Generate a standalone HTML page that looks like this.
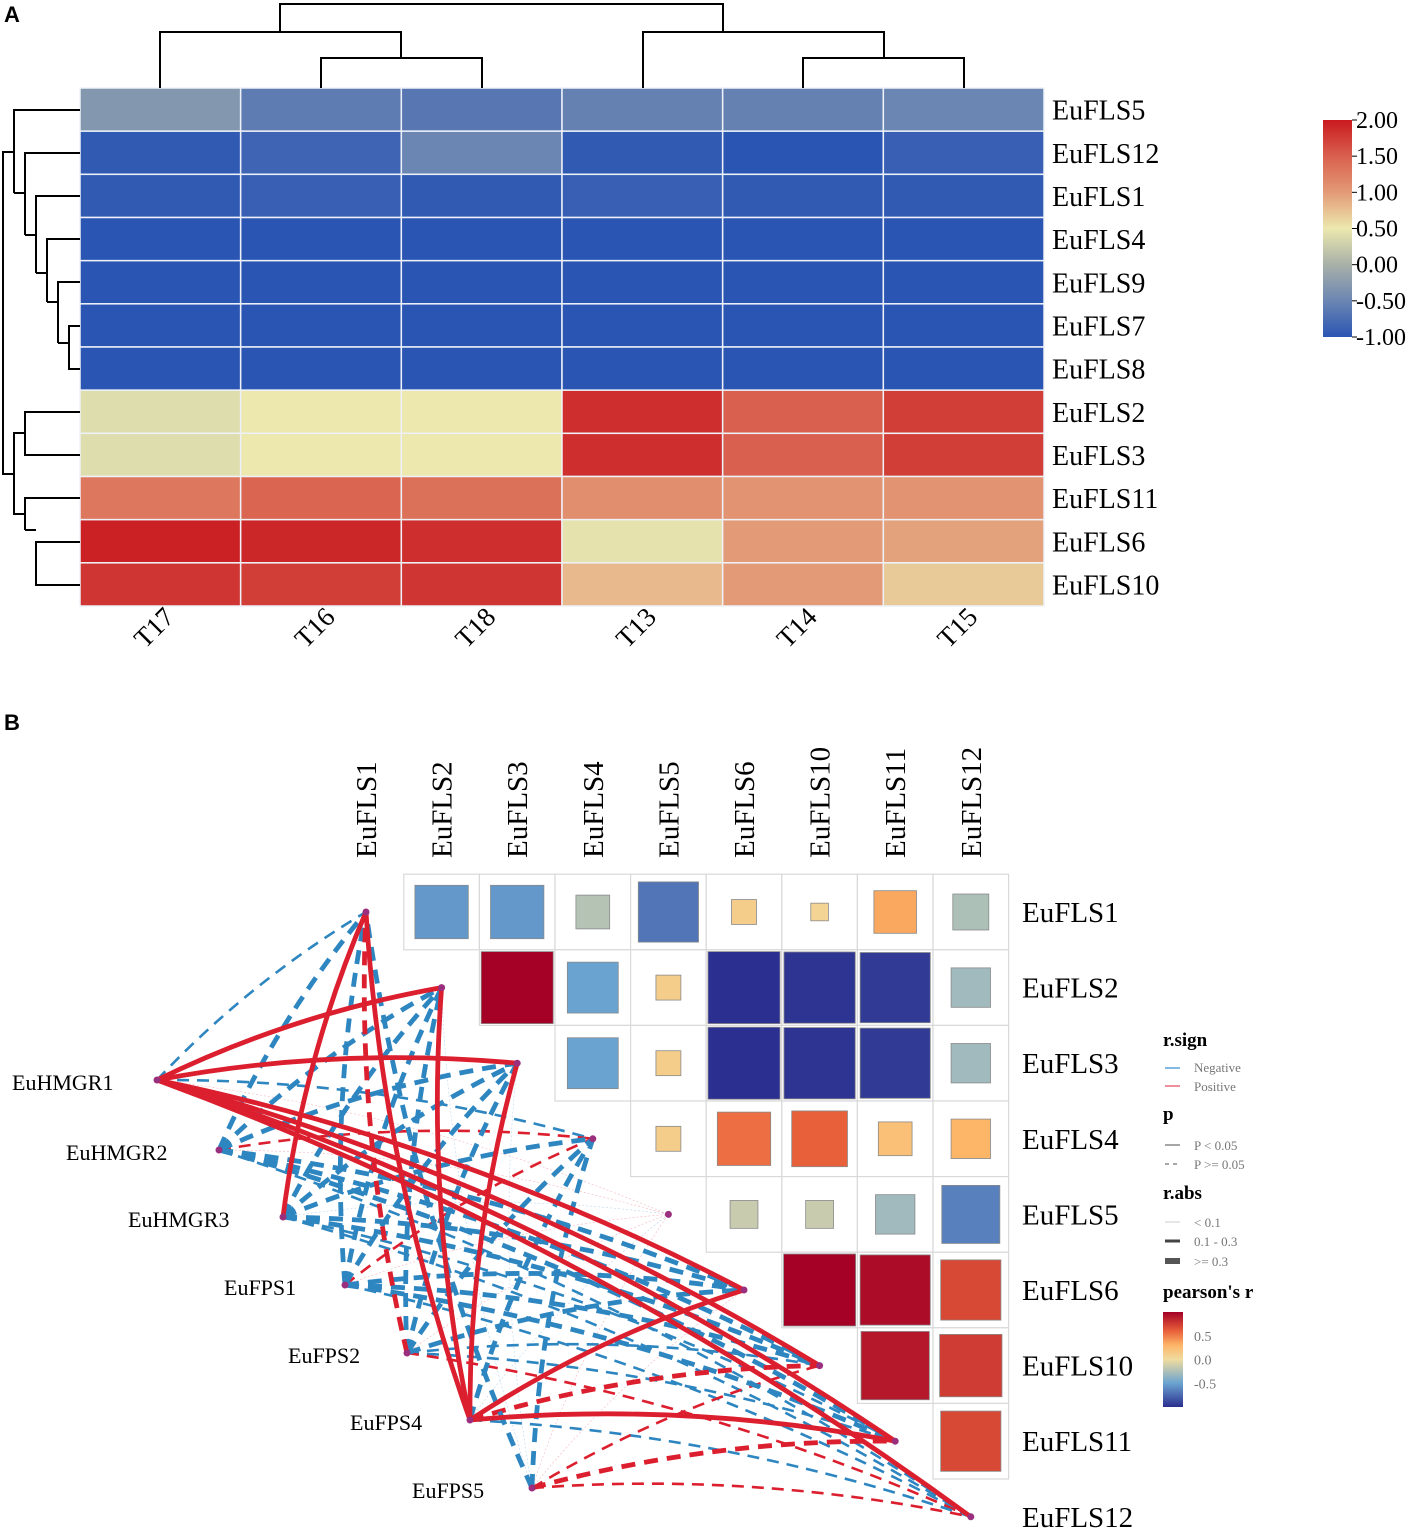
<!DOCTYPE html>
<html><head><meta charset="utf-8">
<style>
html,body{margin:0;padding:0;background:#fff;}
svg{display:block;font-family:"Liberation Serif",serif;}
</style></head>
<body>
<svg id="fig" width="1416" height="1534" viewBox="0 0 1416 1534" xmlns="http://www.w3.org/2000/svg">
<text x="4" y="22" font-family="Liberation Sans, sans-serif" font-weight="bold" font-size="22">A</text>
<text x="4" y="730" font-family="Liberation Sans, sans-serif" font-weight="bold" font-size="22">B</text>
<g id="heat"></g>
<g id="dendro" stroke="#000" stroke-width="2" fill="none">
<path d="M160,88V32H401V58 M321,88V58H482V88 M280,32V4H723V32 M643,88V32H884V58 M803,88V58H964V88"/>
<path d="M80,110H14V193 M14,193H25 M80,153H25V235 M25,235H36 M80,196H36V273 M36,273H47 M80,239H47V302 M47,302H58 M80,282H58V343 M58,343H69 M80,326H69V369H80 M14,152H3V474H14 M80,412H25V455H80 M25,433H14V514H25 M80,498H25V530 M25,530H36 M80,542H36V585H80"/>
</g>
<g id="cbar"></g>
<g id="net"></g>
<g id="corr"></g>
<g id="legend"></g>
</svg>
<script>
// ---------- Panel A data ----------
const heatCols = ["T17","T16","T18","T13","T14","T15"];
const heatRows = ["EuFLS5","EuFLS12","EuFLS1","EuFLS4","EuFLS9","EuFLS7","EuFLS8","EuFLS2","EuFLS3","EuFLS11","EuFLS6","EuFLS10"];
const heatVals = [
 [-0.3,-0.6,-0.65,-0.55,-0.55,-0.5],
 [-0.95,-0.85,-0.5,-0.95,-1.0,-0.9],
 [-0.95,-0.9,-0.95,-0.9,-0.95,-0.95],
 [-1,-1,-1,-1,-1,-1],
 [-1,-1,-1,-1,-1,-1],
 [-1,-1,-1,-1,-1,-1],
 [-1,-1,-1,-1,-1,-1],
 [0.4,0.5,0.5,1.85,1.5,1.75],
 [0.4,0.5,0.5,1.85,1.5,1.75],
 [1.3,1.45,1.35,1.1,1.05,1.05],
 [1.95,1.9,1.85,0.45,1.0,0.95],
 [1.8,1.75,1.8,0.8,1.0,0.7]
];
const cbarTicks = [2,1.5,1,0.5,0,-0.5,-1];

// ---------- Panel B data ----------
const corrNames = ["EuFLS1","EuFLS2","EuFLS3","EuFLS4","EuFLS5","EuFLS6","EuFLS10","EuFLS11","EuFLS12"];
const corrVals = [
 [1,-0.55,-0.55,-0.22,-0.7,0.12,0.06,0.35,-0.25],
 [0,1,1.0,-0.5,0.12,-1.0,-0.98,-0.95,-0.3],
 [0,0,1,-0.5,0.12,-1.0,-0.98,-0.95,-0.3],
 [0,0,0,1,0.12,0.55,0.6,0.22,0.3],
 [0,0,0,0,1,-0.15,-0.15,-0.3,-0.65],
 [0,0,0,0,0,1,1.0,0.95,0.7],
 [0,0,0,0,0,0,1,0.9,0.75],
 [0,0,0,0,0,0,0,1,0.7],
 [0,0,0,0,0,0,0,0,1]
];
const srcNames = ["EuHMGR1","EuHMGR2","EuHMGR3","EuFPS1","EuFPS2","EuFPS4","EuFPS5"];
const edgeR = [
 [-0.2,0.85,0.85,-0.2,0.05,0.9,0.9,0.9,0.6],
 [-0.5,-0.4,-0.5,0.2,0.05,-0.4,-0.3,-0.3,-0.2],
 [0.85,-0.4,-0.4,-0.3,-0.05,-0.3,-0.3,-0.2,-0.2],
 [-0.4,-0.4,-0.4,0.2,0.05,-0.3,-0.3,-0.3,-0.2],
 [0.4,-0.3,-0.3,-0.3,0.05,-0.3,-0.2,-0.2,0.2],
 [0.9,0.9,0.85,-0.3,-0.05,0.9,0.4,0.9,-0.2],
 [-0.5,-0.05,-0.05,-0.3,0.05,0.05,0.2,0.3,0.2]
];
const edgeSig = [
 [0,1,1,0,0,1,1,1,1],
 [0,0,0,0,0,0,0,0,0],
 [1,0,0,0,0,0,0,0,0],
 [0,0,0,0,0,0,0,0,0],
 [0,0,0,0,0,0,0,0,0],
 [1,1,1,0,0,1,0,1,0],
 [0,0,0,0,0,0,0,0,0]
];
const pearsonTicks = [0.5,0,-0.5];

const NS="http://www.w3.org/2000/svg";
function mk(tag,attrs,parent){const e=document.createElementNS(NS,tag);for(const k in attrs)e.setAttribute(k,attrs[k]);parent.appendChild(e);return e;}
function lerp(a,b,t){return a+(b-a)*t;}
function hex(h){return [parseInt(h.slice(1,3),16),parseInt(h.slice(3,5),16),parseInt(h.slice(5,7),16)];}
function ramp(stops,v){
  if(v<=stops[0][0])return stops[0][1];
  for(let i=1;i<stops.length;i++){if(v<=stops[i][0]){const t=(v-stops[i-1][0])/(stops[i][0]-stops[i-1][0]);const a=hex(stops[i-1][1]),b=hex(stops[i][1]);return `rgb(${Math.round(lerp(a[0],b[0],t))},${Math.round(lerp(a[1],b[1],t))},${Math.round(lerp(a[2],b[2],t))})`;}}
  return stops[stops.length-1][1];
}
const heatStops=[[-1,"#2b55b3"],[-0.5,"#6b86b2"],[0,"#a8b0a8"],[0.5,"#ece8ae"],[1,"#e39a76"],[1.5,"#d9604e"],[2,"#c9191f"]];
const corrStops=[[-1,"#2b2f8f"],[-0.5,"#6aa3d0"],[0,"#f0dca0"],[0.3,"#fdb668"],[0.6,"#e8603a"],[1,"#a50026"]];

// ---------- Heatmap ----------
const hx0=80,hx1=1044,hy0=88,hy1=606;
const cw=(hx1-hx0)/heatCols.length, ch=(hy1-hy0)/heatRows.length;
const xH=i=>hx0+i*cw, yH=j=>hy0+j*ch;
const heat=document.getElementById('heat');
heatRows.forEach((rn,j)=>{
  heatCols.forEach((cn,i)=>{
    const r=mk('rect',{x:xH(i),y:yH(j),width:cw,height:ch,fill:ramp(heatStops,heatVals[j][i]),stroke:"#eef2f8","stroke-width":1.5},heat);
    
    
  });
  const t=mk('text',{x:1052,y:yH(j)+ch/2+10,"font-size":28},heat);t.textContent=rn;
  
  
});
heatCols.forEach((cn,i)=>{
  const cx=xH(i)+cw/2, cy=634;
  const t=mk('text',{x:cx,y:cy,"font-size":27,"text-anchor":"middle",transform:`rotate(-45 ${cx} ${cy})`},heat);t.textContent=cn;
  
  
});
// colorbar
const cb=document.getElementById('cbar');
const defs=mk('defs',{},cb);
const g1=mk('linearGradient',{id:'hg',x1:0,y1:1,x2:0,y2:0},defs);
heatStops.forEach(s=>mk('stop',{offset:(s[0]+1)/3,"stop-color":s[1]},g1));
const cbY=v=>337-(v+1)/3*217;
const cbr=mk('rect',{x:1323,y:cbY(2),width:29,height:217,fill:'url(#hg)'},cb);


cbarTicks.forEach(v=>{
  mk('line',{x1:1352,x2:1357,y1:cbY(v),y2:cbY(v),stroke:'#000','stroke-width':1},cb);
  const t=mk('text',{x:1356,y:cbY(v)+8,"font-size":24},cb);t.textContent=v.toFixed(2);
  
  
});

// ---------- Correlation matrix ----------
const step=75.6, cx0=366, cy0=912;
const xC=k=>cx0+k*step, yC=k=>cy0+k*step;
const corr=document.getElementById('corr');
corrNames.forEach((n,k)=>{
  const tx=xC(k)+10, ty=858;
  const t=mk('text',{x:tx,y:ty,"font-size":29,transform:`rotate(-90 ${tx} ${ty})`},corr);t.textContent=n;
  
  
  const t2=mk('text',{x:1022,y:yC(k)+10,"font-size":29},corr);t2.textContent=n;
  
  
});
for(let r=0;r<corrNames.length;r++){for(let c=r+1;c<corrNames.length;c++){
  const v=corrVals[r][c];
  const cell=mk('rect',{x:xC(c)-step/2,y:yC(r)-step/2,width:step,height:step,fill:'#fff',stroke:'#d9d9d9','stroke-width':1.2},corr);
  
  
  const s=72*Math.sqrt(Math.abs(v));
  const sq=mk('rect',{x:xC(c)-s/2,y:yC(r)-s/2,width:s,height:s,fill:ramp(corrStops,v),stroke:'#8a8a8a','stroke-width':0.8},corr);
  
  
}}

// ---------- Network ----------
const net=document.getElementById('net');
const srcPos=[[157,1080],[219,1150],[283,1217],[345,1285],[407,1353],[470,1420],[532,1488]];
const srcLabelX=[12,66,128,224,288,350,412];
function edgeW(r){const a=Math.abs(r);return a<0.1?0.6:(a<0.3?2.6:4.8);}
const order=[];
srcNames.forEach((s,i)=>corrNames.forEach((t,j)=>order.push([i,j])));
order.sort((a,b)=>Math.abs(edgeR[a[0]][a[1]])-Math.abs(edgeR[b[0]][b[1]]) + (edgeSig[a[0]][a[1]]-edgeSig[b[0]][b[1]])*2);
order.forEach(([i,j])=>{
  const r=edgeR[i][j], sig=edgeSig[i][j];
  const [x1,y1]=srcPos[i]; const x2=xC(j), y2=yC(j);
  const dx=x2-x1, dy=y2-y1;
  const k=-0.07;
  const mx=(x1+x2)/2 - dy*k, my=(y1+y2)/2 + dx*k;
  const a=Math.abs(r);
  let col = r<0 ? '#2e86c1' : '#dc1f2e';
  if(a<0.1) col = r<0 ? '#bcd6ec' : '#f4b6bd';
  const p=mk('path',{d:`M${x1},${y1}Q${mx},${my} ${x2},${y2}`,fill:'none',stroke:col,'stroke-width':edgeW(r)},net);
  if(!sig && a>=0.1) p.setAttribute('stroke-dasharray', a>=0.3?'14,9':'12,8');
  if(!sig && a<0.1) p.setAttribute('stroke-dasharray','2,2');
  
  
});
srcNames.forEach((n,i)=>{
  const d=mk('circle',{cx:srcPos[i][0],cy:srcPos[i][1],r:3.5,fill:'#9a2f7e'},net);
  
  
  const t=mk('text',{x:srcLabelX[i],y:srcPos[i][1]+10,"font-size":22},net);t.textContent=n;
  
  
});
corrNames.forEach((n,j)=>{
  const d=mk('circle',{cx:xC(j),cy:yC(j),r:3.5,fill:'#9a2f7e'},net);
  
  
});

// ---------- Legend ----------
const lg=document.getElementById('legend');
function txt(x,y,s,size,bold,fill){const t=mk('text',{x:x,y:y,"font-size":size,fill:fill||'#000'},lg);if(bold)t.setAttribute('font-weight','bold');t.textContent=s;return t;}
let t;
t=txt(1163,1046,'r.sign',19,true);
mk('line',{x1:1165,x2:1180,y1:1068,y2:1068,stroke:'#5aa3d9','stroke-width':1.5},lg);
t=txt(1194,1072,'Negative',13,false,'#777');
mk('line',{x1:1165,x2:1180,y1:1086,y2:1086,stroke:'#e86a7a','stroke-width':1.5},lg);
t=txt(1194,1091,'Positive',13,false,'#777');
t=txt(1163,1120,'p',19,true);
mk('line',{x1:1165,x2:1180,y1:1145,y2:1145,stroke:'#888','stroke-width':1.5},lg);
t=txt(1194,1150,'P < 0.05',13,false,'#777');
mk('line',{x1:1165,x2:1180,y1:1164,y2:1164,stroke:'#888','stroke-width':1.5,'stroke-dasharray':'4,4'},lg);
t=txt(1194,1169,'P >= 0.05',13,false,'#777');
t=txt(1163,1199,'r.abs',19,true);
mk('line',{x1:1165,x2:1180,y1:1222,y2:1222,stroke:'#ccc','stroke-width':1},lg);
t=txt(1194,1227,'< 0.1',13,false,'#777');
mk('line',{x1:1165,x2:1180,y1:1241,y2:1241,stroke:'#444','stroke-width':3},lg);
t=txt(1194,1246,'0.1 - 0.3',13,false,'#777');
mk('line',{x1:1165,x2:1180,y1:1261,y2:1261,stroke:'#555','stroke-width':6},lg);
t=txt(1194,1266,'>= 0.3',13,false,'#777');
t=txt(1163,1298,"pearson's r",19,true);
const g2=mk('linearGradient',{id:'pg',x1:0,y1:1,x2:0,y2:0},defs);
corrStops.forEach(s=>mk('stop',{offset:(s[0]+1)/2,"stop-color":s[1]},g2));
const pbY=v=>1407-(v+1)/2*95;
const pb=mk('rect',{x:1163,y:1312,width:20,height:95,fill:'url(#pg)'},lg);


pearsonTicks.forEach(v=>{
  const t=txt(1194,pbY(v)+5,v.toFixed(1),14,false,'#777');
  
  
});
</script>
</body></html>
